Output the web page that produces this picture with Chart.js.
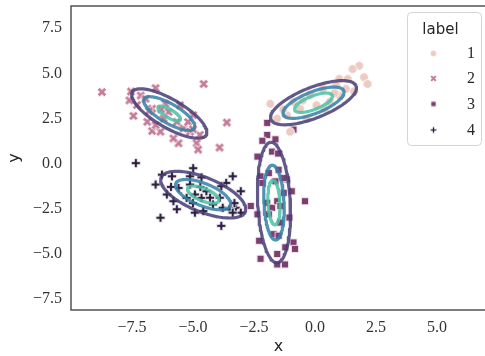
<!DOCTYPE html>
<html><head><meta charset="utf-8">
<script src="https://cdn.jsdelivr.net/npm/chart.js@4"></script>
<style>html,body{margin:0;padding:0;overflow:hidden;background:#fff}canvas{display:block}</style>
</head><body><canvas id="c" width="492" height="356" style="width:492px;height:356px"></canvas>
<script>
// ---- data ----
const labels = ['1', '2', '3', '4'];
const xTicks = [-7.5, -5.0, -2.5, 0.0, 2.5, 5.0];
const yTicks = [-7.5, -5.0, -2.5, 0.0, 2.5, 5.0, 7.5];

const clusterX1 = [1.81,1.54,2.01,2.15,1.00,1.34,0.87,-1.83,-1.02,-0.21,0.33,0.60,-0.61,-1.15,-1.55,0.06,1.00,-0.34,-0.88,1.27,-0.5,0.4,-1.3,0.8,1.6];
const clusterY1 = [5.42,5.24,4.78,4.41,4.69,4.69,4.32,3.31,1.76,3.77,4.14,3.41,3.04,2.68,2.49,3.23,3.77,2.49,3.41,4.14,3.5,3.0,3.0,3.9,4.0];

const clusterX2 = [-8.73,-7.54,-6.53,-4.56,-3.61,-7.44,-6.67,-6.87,-5.59,-4.85,-3.91,-4.79,-7.29,-7.14,-6.94,-6.13,-6.00,-5.66,-5.39,-5.12,-6.33,-4.99,-6.67,-5.53,-4.72,-6.20,-6.53,-5.80,-7.6,-6.3,-5.2,-5.0,-6.8];
const clusterY2 = [3.96,3.99,4.18,4.41,2.27,2.64,1.80,2.31,1.12,1.12,0.88,0.77,3.24,3.77,3.59,3.31,2.86,2.31,1.94,1.76,1.76,2.68,3.04,3.23,1.58,2.49,2.13,1.39,3.5,3.0,2.3,1.9,2.9];

const clusterX3 = [-1.96,-0.88,-1.96,-2.16,-1.62,-1.76,-1.51,-2.36,-1.15,-2.23,-1.89,-1.49,-1.28,-0.95,-1.28,-2.16,-1.62,-0.41,-2.63,-1.96,-1.76,-1.55,-1.42,-2.36,-1.89,-1.42,-1.69,-1.49,-2.29,-0.88,-1.22,-0.82,-2.23,-1.55,-1.05,-1.55,-1.23];
const clusterY3 = [2.25,1.88,1.58,1.26,1.34,0.66,0.55,0.38,-0.88,-0.71,-0.53,-0.35,-0.81,-1.54,-1.63,-1.08,-0.99,-2.09,-2.36,-2.18,-2.46,-2.09,-2.36,-2.82,-2.82,-3.28,-3.92,-4.01,-4.29,-4.38,-4.65,-4.74,-5.29,-5.02,-3.0,-5.60,-5.60];

const clusterX4 = [-7.34,-4.99,-4.65,-6.27,-5.86,-6.53,-5.12,-3.37,-3.64,-3.84,-3.04,-6.07,-5.80,-5.66,-4.65,-4.92,-4.45,-4.18,-3.78,-3.51,-3.24,-3.04,-4.92,-4.58,-6.33,-3.84,-3.37,-5.12,-5.59,-5.26,-4.3,-5.0,-3.9,-4.7,-5.9,-3.3];
const clusterY4 = [0.02,-0.26,-0.77,-0.62,-0.71,-1.17,-0.71,-0.71,-1.08,-1.26,-1.54,-1.72,-2.09,-2.54,-1.91,-1.72,-1.54,-2.27,-2.46,-2.54,-2.46,-2.73,-2.73,-2.64,-3.01,-3.46,-2.73,-1.17,-1.36,-1.91,-1.9,-2.2,-1.9,-1.3,-1.3,-2.2];

// Gaussian contour ellipses: centre, two conjugate semi-axis vectors (outer level), relative level sizes
const ellCX = [-0.06, -5.97, -1.68, -4.58];
const ellCY = [3.37, 2.77, -2.17, -1.73];
const ellUX = [1.747, 1.514, -0.129, 1.723];
const ellUY = [0.936, -1.190, 3.346, -0.947];
const ellVX = [-0.230, 0.289, 0.666, 0.262];
const ellVY = [0.790, 0.682, 0.047, 0.883];
const ellLevels = [[1, 0.71, 0.44], [1, 0.68, 0.30], [1, 0.62, 0.37], [1, 0.65, 0.37]];

// ---- styles ----
const pointColors = ['#ebcbc2', '#c47d98', '#7d3e70', '#2d1e3e'];
const pointKinds = ['circle', 'x', 'square', 'plus'];
const levelColors = ['rgba(72,62,118,0.86)', 'rgba(54,128,167,0.86)', 'rgba(74,194,163,0.86)'];

function makeMarker(kind, color, s) {
  const size = Math.ceil(12 * s) + 2;
  const cv = document.createElement('canvas');
  cv.width = cv.height = size;
  const ctx = cv.getContext('2d');
  ctx.translate(size / 2, size / 2);
  ctx.fillStyle = color; ctx.strokeStyle = '#fff'; ctx.lineWidth = 0.8;
  ctx.beginPath();
  if (kind === 'circle') ctx.arc(0, 0, 4.4 * s, 0, Math.PI * 2);
  else if (kind === 'square') ctx.rect(-3.6 * s, -3.6 * s, 7.2 * s, 7.2 * s);
  else {
    const isX = kind === 'x';
    if (isX) ctx.rotate(Math.PI / 4);
    const L = (isX ? 5.0 : 4.6) * s, w = (isX ? 1.7 : 1.45) * s;
    const p = [[-w,-L],[w,-L],[w,-w],[L,-w],[L,w],[w,w],[w,L],[-w,L],[-w,w],[-L,w],[-L,-w],[-w,-w]];
    ctx.moveTo(p[0][0], p[0][1]);
    for (let i = 1; i < p.length; i++) ctx.lineTo(p[i][0], p[i][1]);
    ctx.closePath();
  }
  ctx.fill(); ctx.stroke();
  return cv;
}

const clustersX = [clusterX1, clusterX2, clusterX3, clusterX4];
const clustersY = [clusterY1, clusterY2, clusterY3, clusterY4];
const markers = pointKinds.map((k, i) => makeMarker(k, pointColors[i], 1));
const legendMarkers = pointKinds.map((k, i) => makeMarker(k, pointColors[i], 0.72));

const datasets = [];
labels.forEach((lab, i) => {
  datasets.push({
    label: lab,
    data: clustersX[i].map((x, j) => ({ x: x, y: clustersY[i][j] })),
    pointStyle: markers[i], pointRadius: 5, pointHoverRadius: 5,
    showLine: false, order: 1
  });
});
labels.forEach((lab, i) => {
  ellLevels[i].forEach((k, li) => {
    const pts = [];
    const N = 120;
    for (let n = 0; n <= N; n++) {
      const t = 2 * Math.PI * n / N;
      pts.push({
        x: ellCX[i] + k * (ellUX[i] * Math.cos(t) + ellVX[i] * Math.sin(t)),
        y: ellCY[i] + k * (ellUY[i] * Math.cos(t) + ellVY[i] * Math.sin(t))
      });
    }
    datasets.push({
      label: 'contour', data: pts, showLine: true, pointRadius: 0, pointHoverRadius: 0,
      borderColor: levelColors[li], borderWidth: 3.2, fill: false, tension: 0, order: 0,
      borderJoinStyle: 'round'
    });
  });
});

const fmt = v => (v < 0 ? '\u2212' : '') + Math.abs(v).toFixed(1);
const tickFont = { family: 'Liberation Serif', size: 16 };

const framePlugin = {
  id: 'frame',
  afterDraw(chart) {
    const { ctx, chartArea: a } = chart;
    ctx.save();
    ctx.strokeStyle = '#3a3a3a'; ctx.lineWidth = 1.3;
    ctx.strokeRect(a.left, a.top, a.right - a.left, a.bottom - a.top);
    // legend
    const bx = 407.5, by = 12.5, bw = 74, bh = 133, r = 4;
    ctx.beginPath();
    ctx.moveTo(bx + r, by); ctx.lineTo(bx + bw - r, by); ctx.quadraticCurveTo(bx + bw, by, bx + bw, by + r);
    ctx.lineTo(bx + bw, by + bh - r); ctx.quadraticCurveTo(bx + bw, by + bh, bx + bw - r, by + bh);
    ctx.lineTo(bx + r, by + bh); ctx.quadraticCurveTo(bx, by + bh, bx, by + bh - r);
    ctx.lineTo(bx, by + r); ctx.quadraticCurveTo(bx, by, bx + r, by);
    ctx.closePath();
    ctx.fillStyle = 'rgba(255,255,255,0.85)'; ctx.fill();
    ctx.strokeStyle = '#d4d4d4'; ctx.lineWidth = 1; ctx.stroke();
    ctx.fillStyle = '#262626';
    ctx.font = '15px "DejaVu Sans"'; ctx.textAlign = 'center'; ctx.textBaseline = 'middle';
    ctx.fillText('label', 440.5, 30);
    const ys = [53.5, 78.5, 104, 130];
    ctx.font = '16px "Liberation Serif"'; ctx.textAlign = 'right';
    labels.forEach((lab, i) => {
      const m = legendMarkers[i];
      ctx.drawImage(m, 433.5 - m.width / 2, ys[i] - m.height / 2);
      ctx.fillText(lab, 475, ys[i] + 0.5);
    });
    ctx.restore();
  }
};

new Chart(document.getElementById('c'), {
  type: 'scatter',
  data: { datasets: datasets },
  options: {
    responsive: false, maintainAspectRatio: false, animation: false, devicePixelRatio: 1,
    layout: { padding: { top: 3, left: 0, right: 0, bottom: 0 } },
    plugins: { legend: { display: false }, tooltip: { enabled: false } },
    scales: {
      x: {
        type: 'linear', min: -9.996, max: 7.007,
        grid: { display: false, drawTicks: false }, border: { display: false },
        ticks: { font: tickFont, color: '#333', padding: 8, callback: v => fmt(v) },
        title: { display: true, text: 'x', font: { family: 'DejaVu Sans', size: 16 }, color: '#262626', padding: { top: 0, bottom: 0 } },
        afterBuildTicks: s => { s.ticks = xTicks.map(v => ({ value: v })); },
        afterFit: s => { s.height = 46; s.paddingLeft = 0; s.paddingRight = 0; s.paddingTop = 0; s.paddingBottom = 0; }
      },
      y: {
        type: 'linear', min: -8.13, max: 8.736,
        grid: { display: false, drawTicks: false }, border: { display: false },
        ticks: { font: tickFont, color: '#333', padding: 9, callback: v => fmt(v) },
        title: { display: true, text: 'y', font: { family: 'DejaVu Sans', size: 16 }, color: '#262626', padding: { top: 5, bottom: 0 } },
        afterBuildTicks: s => { s.ticks = yTicks.map(v => ({ value: v })); },
        afterFit: s => { s.width = 71; s.paddingLeft = 0; s.paddingRight = 0; s.paddingTop = 0; s.paddingBottom = 0; }
      }
    }
  },
  plugins: [framePlugin]
});
</script></body></html>
